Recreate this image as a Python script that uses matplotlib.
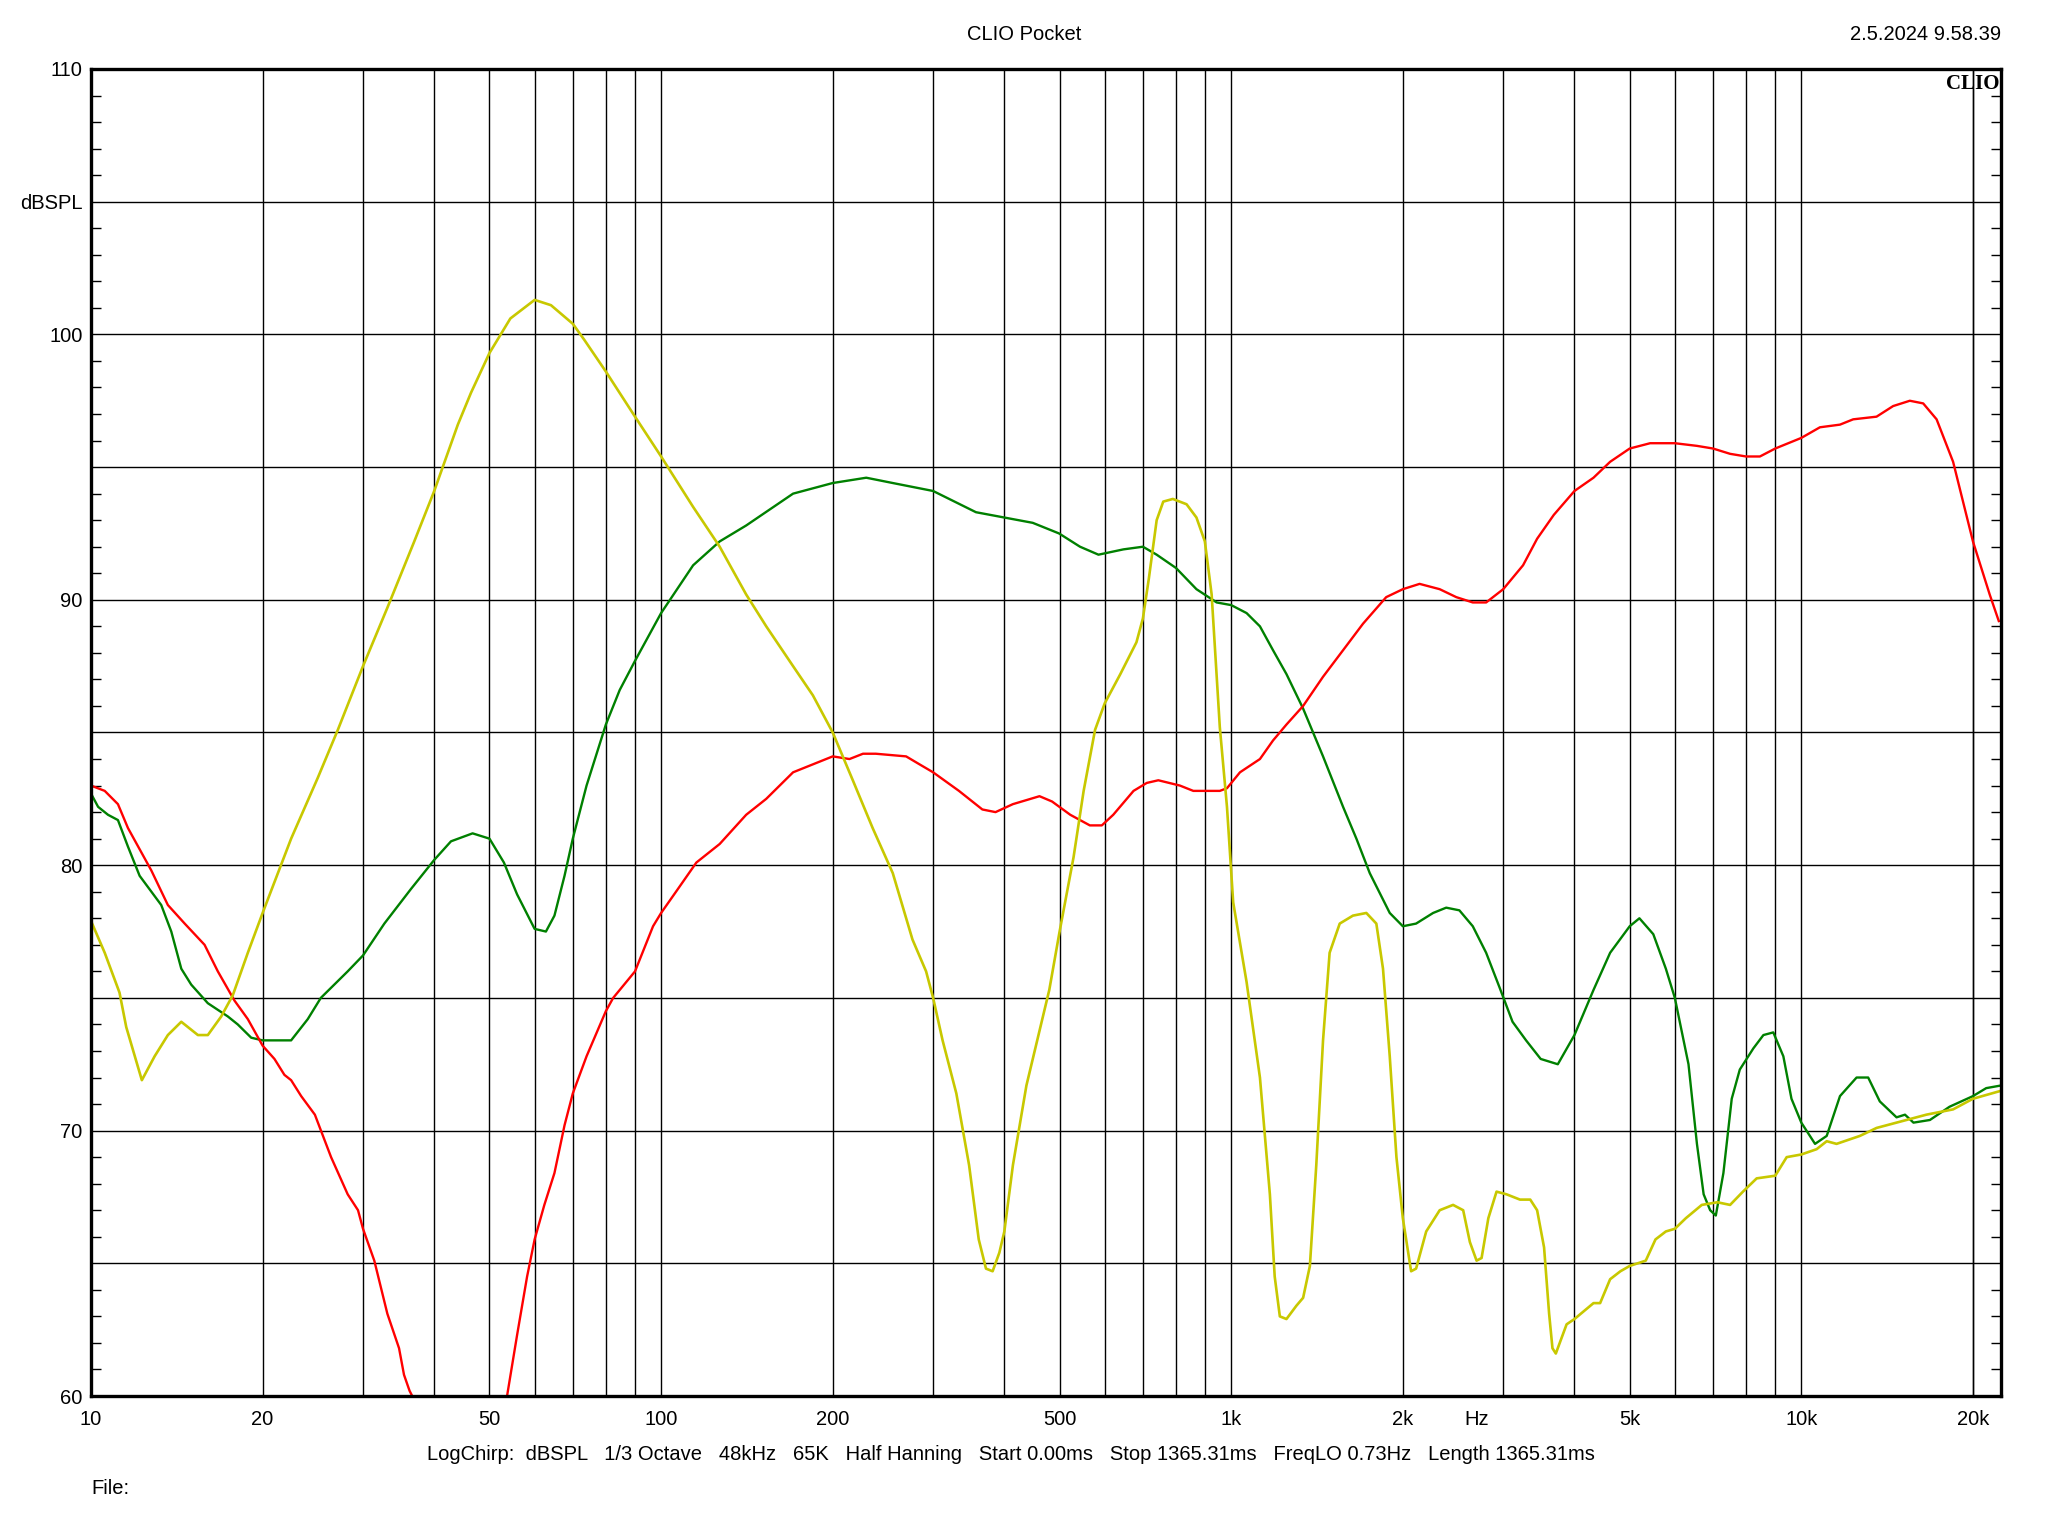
import matplotlib
matplotlib.use("Agg")
import matplotlib.pyplot as plt
from matplotlib.ticker import FixedLocator, MultipleLocator, NullFormatter
import matplotlib.transforms as mtransforms

plt.rcParams['font.family'] = ['Liberation Sans', 'DejaVu Sans']

# --- data (Hz, dBSPL) ---
yellow_f = [10.0, 10.57, 11.22, 11.53, 12.28, 12.93, 13.64, 14.40, 15.40, 16.03, 16.92,
            17.73, 18.84, 20.0, 22.44, 25.0, 27.1, 30.0, 33.1, 36.9, 40.0, 44.0, 46.4,
            50.0, 54.4, 60.0, 64.1, 70.0, 73.3, 80, 90, 100, 113.8, 126.7, 141, 152.9,
            170.4, 184.6, 200, 216.9, 235, 254.9, 276, 291.6, 300, 311.7, 329.5, 346.9,
            360.7, 371.4, 381.5, 392, 400, 414.1, 437.3, 461.6, 479.6, 500, 529, 551,
            577, 600, 639, 682, 700, 717, 740, 760, 790, 835, 869, 899, 924, 955, 983,
            1008, 1064, 1123, 1169, 1192, 1217, 1250, 1301, 1337, 1374, 1410, 1449,
            1488, 1550, 1635, 1726, 1797, 1846, 1897, 1949, 2000, 2068, 2110, 2198,
            2321, 2450, 2552, 2622, 2694, 2749, 2825, 2920, 3040, 3210, 3346, 3440,
            3538, 3611, 3660, 3710, 3875, 4000, 4320, 4437, 4620, 4816, 5000, 5335,
            5549, 5786, 6000, 6273, 6690, 7125, 7500, 7900, 8350, 9000, 9426, 10000,
            10638, 11080, 11530, 12670, 13550, 14690, 16570, 18460, 20000, 22400]
yellow_db = [77.9, 76.7, 75.2, 73.9, 71.9, 72.8, 73.6, 74.1, 73.6, 73.6, 74.3,
             75.1, 76.7, 78.2, 81.0, 83.3, 85.1, 87.5, 89.7, 92.2, 94.1, 96.6, 97.8,
             99.3, 100.6, 101.3, 101.1, 100.4, 99.8, 98.6, 96.9, 95.4, 93.5, 92.0, 90.2, 89.0,
             87.5, 86.4, 85.0, 83.2, 81.4, 79.7, 77.2, 76.0, 75.0, 73.4, 71.4, 68.7,
             65.9, 64.8, 64.7, 65.4, 66.2, 68.7, 71.7, 73.8, 75.3, 77.5, 80.3, 82.8,
             85.1, 86.1, 87.2, 88.4, 89.3, 90.8, 93.0, 93.7, 93.8, 93.6, 93.1, 92.2, 90.2, 85.2, 82.2,
             78.6, 75.6, 72.0, 67.6, 64.5, 63.0, 62.9, 63.4, 63.7, 64.9, 68.7, 73.4,
             76.7, 77.8, 78.1, 78.2, 77.8, 76.1, 72.8, 69.0, 66.7, 64.7, 64.8, 66.2,
             67.0, 67.2, 67.0, 65.8, 65.1, 65.2, 66.7, 67.7, 67.6, 67.4, 67.4, 67.0,
             65.6, 63.1, 61.8, 61.6, 62.7, 62.9, 63.5, 63.5, 64.4, 64.7, 64.9, 65.1,
             65.9, 66.2, 66.3, 66.7, 67.2, 67.3, 67.2, 67.7, 68.2, 68.3, 69.0, 69.1,
             69.3, 69.6, 69.5, 69.8, 70.1, 70.3, 70.6, 70.8, 71.2, 71.5]

green_f = [10.0, 10.29, 10.71, 11.15, 11.61, 12.17, 13.28, 13.83, 14.40, 14.99, 16.03,
           17.38, 18.09, 19.10, 20.0, 22.44, 24.0, 25.3, 28.2, 30.0, 32.7, 36.4, 40.0,
           42.8, 46.7, 50.0, 53.0, 55.9, 60.0, 62.8, 65.0, 67.7, 70.0, 74.0, 80, 84.6,
           90, 100, 113.8, 126.7, 141, 170.4, 200, 229, 254.9, 300, 356.7, 400, 448.6,
           498.9, 543, 585, 647, 700, 740, 800, 869, 943, 1000, 1064, 1123, 1184, 1250,
           1337, 1449, 1571, 1658, 1750, 1897, 2000, 2110, 2260, 2383, 2513, 2653, 2800,
           2955, 3115, 3290, 3490, 3740, 4000, 4320, 4620, 5000, 5200, 5500, 5786, 6000,
           6340, 6560, 6740, 6920, 7080, 7300, 7550, 7800, 8240, 8580, 8930, 9300, 9610,
           10000, 10570, 11080, 11690, 12500, 13100, 13730, 14690, 15200, 15730, 16810,
           18200, 20000, 21100, 22400]
green_db = [82.7, 82.2, 81.9, 81.7, 80.7, 79.6, 78.5, 77.5, 76.1, 75.5, 74.8,
            74.3, 74.0, 73.5, 73.4, 73.4, 74.2, 75.0, 76.0, 76.6, 77.8, 79.1, 80.2,
            80.9, 81.2, 81.0, 80.1, 78.9, 77.6, 77.5, 78.1, 79.6, 81.0, 83.0, 85.3, 86.6,
            87.7, 89.5, 91.3, 92.2, 92.8, 94.0, 94.4, 94.6, 94.4, 94.1, 93.3, 93.1, 92.9,
            92.5, 92.0, 91.7, 91.9, 92.0, 91.7, 91.2, 90.4, 89.9, 89.8, 89.5, 89.0, 88.1, 87.2,
            85.9, 84.1, 82.2, 81.0, 79.7, 78.2, 77.7, 77.8, 78.2, 78.4, 78.3, 77.7, 76.7,
            75.4, 74.1, 73.4, 72.7, 72.5, 73.6, 75.3, 76.7, 77.7, 78.0, 77.4, 76.1, 75.0,
            72.5, 69.5, 67.6, 67.0, 66.8, 68.4, 71.2, 72.3, 73.1, 73.6, 73.7, 72.8, 71.2,
            70.3, 69.5, 69.8, 71.3, 72.0, 72.0, 71.1, 70.5, 70.6, 70.3, 70.4,
            70.9, 71.3, 71.6, 71.7]

red_f = [10.0, 10.57, 11.15, 11.61, 12.76, 13.64, 14.60, 15.82, 16.69, 17.85, 18.84,
         20.0, 20.98, 21.84, 22.44, 23.37, 24.7, 26.37, 28.2, 29.4, 30.0, 31.4, 33.1,
         34.7, 35.4, 36.2, 37.4, 42.0, 46.0, 50.0, 53.3, 55.9, 58.2, 60.0, 62.4, 65.0,
         67.7, 70.0, 74.0, 80, 82.4, 90, 96.8, 100, 107.8, 115.3, 126.7, 141, 152.9,
         170.4, 184.6, 200, 214, 226, 238, 269, 284, 300, 333, 366, 386, 414, 461, 485,
         522, 565, 593, 621, 674, 711, 745, 813, 858, 955, 983, 1036, 1123, 1184, 1250,
         1337, 1449, 1571, 1703, 1870, 2000, 2140, 2321, 2482, 2653, 2800, 3000, 3250,
         3440, 3680, 4000, 4320, 4620, 5000, 5430, 6000, 6560, 7000, 7500, 8000, 8460,
         9000, 10000, 10780, 11690, 12330, 13550, 14490, 15500, 16360, 17270, 18460,
         20000, 21400, 22200]
red_db = [83.0, 82.8, 82.3, 81.4, 79.8, 78.5, 77.8, 77.0, 76.0, 74.9, 74.2,
          73.2, 72.7, 72.1, 71.9, 71.3, 70.6, 69.0, 67.6, 67.0, 66.3, 65.1, 63.1,
          61.8, 60.8, 60.2, 59.6, 56.5, 55.5, 57.0, 59.6, 62.3, 64.5, 65.9, 67.2, 68.4,
          70.2, 71.4, 72.8, 74.5, 75.0, 76.0, 77.7, 78.2, 79.2, 80.1, 80.8, 81.9, 82.5,
          83.5, 83.8, 84.1, 84.0, 84.2, 84.2, 84.1, 83.8, 83.5, 82.8, 82.1, 82.0, 82.3, 82.6, 82.4,
          81.9, 81.5, 81.5, 81.9, 82.8, 83.1, 83.2, 83.0, 82.8, 82.8, 82.9, 83.5, 84.0, 84.7, 85.3,
          86.0, 87.1, 88.1, 89.1, 90.1, 90.4, 90.6, 90.4, 90.1, 89.9, 89.9, 90.4, 91.3,
          92.3, 93.2, 94.1, 94.6, 95.2, 95.7, 95.9, 95.9, 95.8, 95.7, 95.5, 95.4, 95.4,
          95.7, 96.1, 96.5, 96.6, 96.8, 96.9, 97.3, 97.5, 97.4, 96.8, 95.2,
          92.2, 90.2, 89.2]

grid_freqs = [m * 10 ** e for e in range(1, 5) for m in range(1, 10)] + [20000]
label_freqs = [10, 20, 50, 100, 200, 500, 1000, 2000, 5000, 10000, 20000]
label_text = ['10', '20', '50', '100', '200', '500', '1k', '2k', '5k', '10k', '20k']
y_ticks = [60, 65, 70, 75, 80, 85, 90, 95, 100, 105, 110]
y_text = ['60', '', '70', '', '80', '', '90', '', '100', 'dBSPL', '110']

FS = 14.5

fig = plt.figure(figsize=(20.48, 15.36), dpi=100)
ax = fig.add_axes([91 / 2048, 1 - 1396 / 1536, 1910 / 2048, 1327 / 1536])

ax.semilogx(green_f, green_db, color='#008000', lw=1.7, zorder=3)
ax.semilogx(red_f, red_db, color='#ff0000', lw=1.7, zorder=4)
ax.semilogx(yellow_f, yellow_db, color='#c8c800', lw=1.9, zorder=5)

ax.set_xlim(10, 22400)
ax.set_ylim(60, 110)

# vertical grid on every 1-9 step, horizontal every 5 dB
for f in grid_freqs:
    ax.axvline(f, color='black', lw=1.0, zorder=1)
for v in y_ticks:
    ax.axhline(v, color='black', lw=1.0, zorder=1)

ax.xaxis.set_major_locator(FixedLocator(label_freqs))
ax.xaxis.set_minor_locator(FixedLocator([]))
ax.set_xticklabels(label_text)
ax.tick_params(axis='x', which='major', length=0, pad=10, labelsize=FS)

ax.set_yticks(y_ticks)
ax.set_yticklabels(y_text)
ax.yaxis.set_minor_locator(MultipleLocator(1))
ax.yaxis.set_minor_formatter(NullFormatter())
ax.tick_params(axis='y', which='major', length=0, pad=6, labelsize=FS)
ax.tick_params(axis='y', which='minor', direction='in', length=7, width=1.0,
               left=True, right=True)

for s in ax.spines.values():
    s.set_linewidth(2.4)
    s.set_zorder(6)

trans = mtransforms.blended_transform_factory(ax.transData, ax.transAxes)
ax.text(2700, -0.0175, 'Hz', transform=trans, ha='center', va='center', fontsize=FS)

ax.text(0.999, 0.996, 'CLIO', transform=ax.transAxes, ha='right', va='top',
        fontsize=15, fontweight='bold', family='Liberation Serif', zorder=7)

fig.text(0.5, 1 - 34 / 1536, 'CLIO Pocket', ha='center', va='center', fontsize=FS)
fig.text(2001 / 2048, 1 - 34 / 1536, '2.5.2024 9.58.39', ha='right', va='center', fontsize=FS)
fig.text(1011 / 2048, 1 - 1455 / 1536,
         'LogChirp:  dBSPL   1/3 Octave   48kHz   65K   Half Hanning   Start 0.00ms   '
         'Stop 1365.31ms   FreqLO 0.73Hz   Length 1365.31ms',
         ha='center', va='center', fontsize=FS)
fig.text(91 / 2048, 1 - 1489 / 1536, 'File:', ha='left', va='center', fontsize=FS)

fig.savefig('out.png', dpi=100, facecolor='white')
